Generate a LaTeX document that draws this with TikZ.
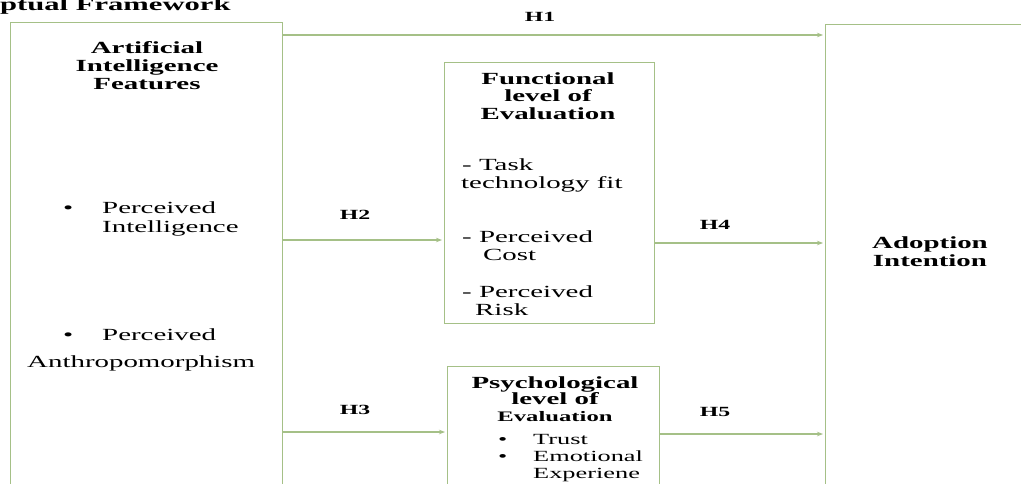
\documentclass[tikz,border=0pt]{standalone}
\usepackage{fontspec}
\setmainfont{Liberation Serif}[FakeStretch=1.7]
\usetikzlibrary{arrows.meta}
\definecolor{lg}{RGB}{165,192,135}
\begin{document}
\begin{tikzpicture}[x=1pt,y=-1pt,
  box/.style={draw=lg, line width=1.4pt, inner sep=0pt, anchor=north west},
  arr/.style={draw=lg, line width=1.2pt, shorten >=2pt, -{Stealth[length=6pt,width=4.5pt]}},
  ttl/.style={font=\fontsize{17}{18}\selectfont\bfseries, align=center, inner sep=0pt},
  txt/.style={font=\fontsize{17}{19}\selectfont, inner sep=0pt, anchor=base west},
  sml/.style={font=\fontsize{15.5}{17}\selectfont, inner sep=0pt, anchor=base west},
  hl/.style={font=\fontsize{14}{16}\selectfont\bfseries, inner sep=0pt}]
\useasboundingbox (0,0) rectangle (1021,483);
\clip (0,0) rectangle (1021,483);
\fill[white] (0,0) rectangle (1021,483);
% heading (cut off at the top, as in the reference)
\node[font=\fontsize{18}{20}\selectfont\bfseries, anchor=base west, inner sep=0pt] (hdr) at (0,10) {ptual Framework};
% boxes
\node[box, minimum width=272pt, minimum height=520pt] (ai) at (10,22) {};
\node[box, minimum width=210pt, minimum height=261pt] (fe) at (444,62) {};
\node[box, minimum width=212pt, minimum height=200pt] (pe) at (447,366) {};
\node[box, minimum width=250pt, minimum height=520pt] (ad) at (825,24) {};
% left box text
\node[ttl] (aiT) at (147,66) {Artificial\\Intelligence\\Features};
\node[txt] (b1) at (63,213) {\textbullet};
\node[txt] (p1) at (102,213) {Perceived};
\node[txt] (i1) at (102,232) {Intelligence};
\node[txt] (b2) at (63,340) {\textbullet};
\node[txt] (p2) at (102,340) {Perceived};
\node[txt] (an) at (27,367) {Anthropomorphism};
% functional box text
\node[ttl, font=\fontsize{17}{17.5}\selectfont\bfseries] (feT) at (548,96) {Functional\\level of\\Evaluation};
\node[txt] (f1) at (462,170) {- Task};
\node[txt] (f2) at (461,188) {technology fit};
\node[txt] (f3) at (462,242) {- Perceived};
\node[txt] (f4) at (483,260) {Cost};
\node[txt] (f5) at (462,297) {- Perceived};
\node[txt] (f6) at (475,315) {Risk};
% psychological box text
\node[ttl, font=\fontsize{17}{16.5}\selectfont\bfseries] (peT) at (555,399) {Psychological\\level of\\{\fontsize{14.5}{16.5}\selectfont Evaluation}};
\node[sml] (q1) at (498,444) {\textbullet};
\node[sml] (q2) at (533,444) {Trust};
\node[sml] (q3) at (498,461) {\textbullet};
\node[sml] (q4) at (533,461) {Emotional};
\node[sml] (q5) at (533,478) {Experiene};
% adoption
\node[ttl] (adT) at (930,252) {Adoption\\Intention};
% connectors
\coordinate (c1) at (0,35);
\coordinate (c2) at (0,240);
\coordinate (c4) at (0,243);
\coordinate (c3) at (0,432);
\coordinate (c5) at (0,434);
\draw[arr] (ai.east |- c1) -- (ad.west |- c1);
\draw[arr] (ai.east |- c2) -- (fe.west |- c2);
\draw[arr] (fe.east |- c4) -- (ad.west |- c4);
\draw[arr] (ai.east |- c3) -- (pe.west |- c3);
\draw[arr] (pe.east |- c5) -- (ad.west |- c5);
% labels
\node[hl] (h1) at (540,17) {H1};
\node[hl] (h2) at (355,215) {H2};
\node[hl] (h4) at (715,225) {H4};
\node[hl] (h3) at (355,410) {H3};
\node[hl] (h5) at (715,412) {H5};
\end{tikzpicture}
\end{document}
